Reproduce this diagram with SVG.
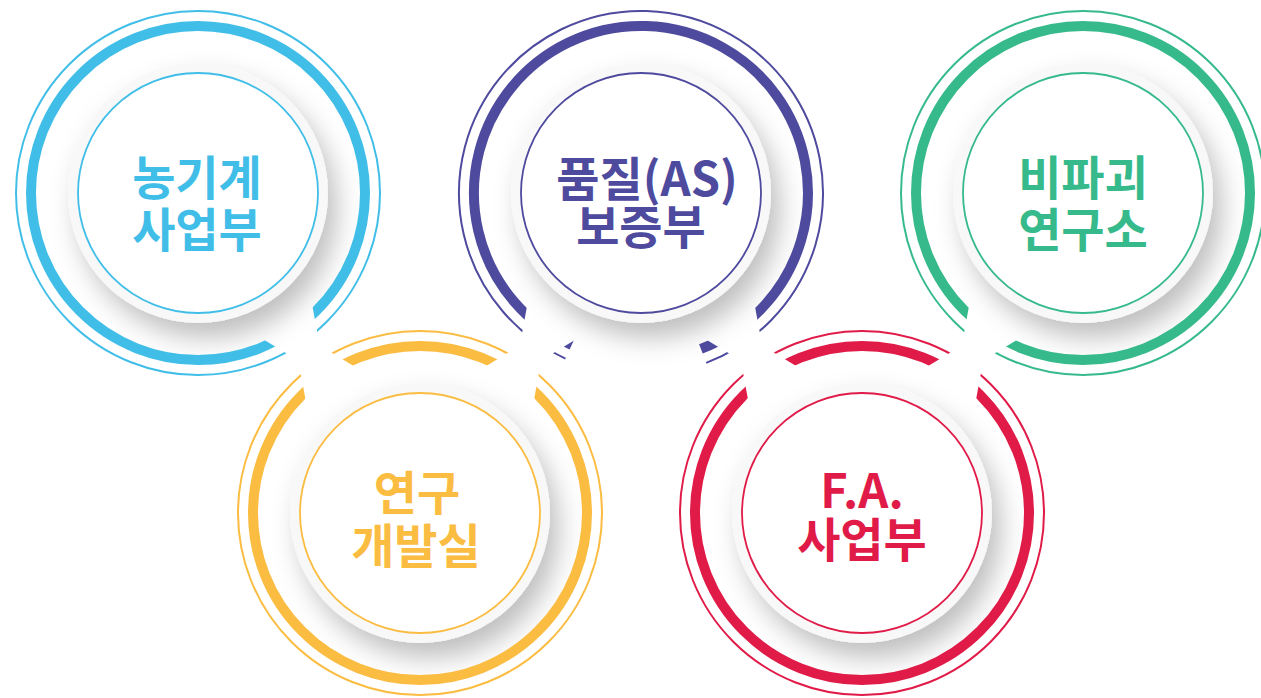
<svg xmlns="http://www.w3.org/2000/svg" xmlns:xlink="http://www.w3.org/1999/xlink" width="1261" height="698" viewBox="0 0 1261 698">
<style>
.disk{fill:#f8f8f8;filter:url(#sh)}
.face{fill:#ffffff;stroke-width:1.8}
.thin{fill:none;stroke-width:2}
.thick{fill:none;stroke-width:10}
.lbl{font-family:"Noto Sans CJK KR","Noto Sans",sans-serif;font-weight:700;font-size:47px;text-anchor:middle;stroke:none}
.blue{stroke:#41bee8}
.purple{stroke:#4e4a9e}
.green{stroke:#36ba8b}
.yellow{stroke:#fbbc42}
.red{stroke:#e01b48}
.tb{fill:#41bee8}
.tp{fill:#4e4a9e}
.tg{fill:#36ba8b}
.ty{fill:#fbbc42}
.tr{fill:#e01b48}
</style>
<defs>
<filter id="sh" x="-40%" y="-40%" width="180%" height="180%">
<feDropShadow dx="9" dy="15" stdDeviation="13" flood-color="#000" flood-opacity="0.25"/>
</filter>
<polygon id="bowtie" points="13,0 33.25,45 -33.25,45 -13,0 -33.25,-45 33.25,-45"/>
<mask id="cuts" maskUnits="userSpaceOnUse" x="0" y="0" width="1261" height="698">
<rect x="0" y="0" width="1261" height="698" fill="#fff"/>
<use xlink:href="#bowtie" fill="#000" transform="translate(309,353) rotate(-34.7)"/>
<use xlink:href="#bowtie" fill="#000" transform="translate(530.5,353) rotate(34.6)"/>
<use xlink:href="#bowtie" fill="#000" transform="translate(751.5,353) rotate(-34.7)"/>
<use xlink:href="#bowtie" fill="#000" transform="translate(972.5,353) rotate(34.6)"/>
</mask>
</defs>
<rect x="0" y="0" width="1261" height="698" fill="#ffffff"/>

<g id="node-nonggigye">
<circle class="disk" cx="198" cy="193" r="130"/>
<circle class="face blue" cx="198" cy="193" r="120"/>
<g mask="url(#cuts)">
<circle class="thin blue" cx="198" cy="193" r="182"/>
<circle class="thick blue" cx="198" cy="193" r="167"/>
</g>
<text class="lbl tb"><tspan x="197" y="195">농기계</tspan><tspan x="197" y="247">사업부</tspan></text>
</g>

<g id="node-quality">
<circle class="disk" cx="641" cy="193" r="130"/>
<circle class="face purple" cx="641" cy="193" r="120"/>
<g mask="url(#cuts)">
<path class="thin purple" d="M565.5,358.6 A182,182 0 1 1 706.2,362.9"/>
<path class="thick purple" d="M571.7,345.0 A167,167 0 1 1 700.9,348.9"/>
</g>
<text class="lbl tp"><tspan x="647" y="196">품질(AS)</tspan><tspan x="641" y="244">보증부</tspan></text>
</g>

<g id="node-nondestructive">
<circle class="disk" cx="1083" cy="193" r="130"/>
<circle class="face green" cx="1083" cy="193" r="120"/>
<g mask="url(#cuts)">
<circle class="thin green" cx="1083" cy="193" r="182"/>
<circle class="thick green" cx="1083" cy="193" r="167"/>
</g>
<text class="lbl tg"><tspan x="1083" y="195">비파괴</tspan><tspan x="1083" y="247">연구소</tspan></text>
</g>

<g id="node-rnd">
<circle class="disk" cx="420" cy="513" r="130"/>
<circle class="face yellow" cx="420" cy="513" r="120"/>
<g mask="url(#cuts)">
<circle class="thin yellow" cx="420" cy="513" r="182"/>
<circle class="thick yellow" cx="420" cy="513" r="167"/>
</g>
<text class="lbl ty"><tspan x="417" y="510">연구</tspan><tspan x="416" y="563">개발실</tspan></text>
</g>

<g id="node-fa">
<circle class="disk" cx="862" cy="513" r="130"/>
<circle class="face red" cx="862" cy="513" r="120"/>
<g mask="url(#cuts)">
<circle class="thin red" cx="862" cy="513" r="182"/>
<circle class="thick red" cx="862" cy="513" r="167"/>
</g>
<text class="lbl tr"><tspan x="862" y="508">F.A.</tspan><tspan x="862" y="557">사업부</tspan></text>
</g>

<g id="connectors"></g>
</svg>
